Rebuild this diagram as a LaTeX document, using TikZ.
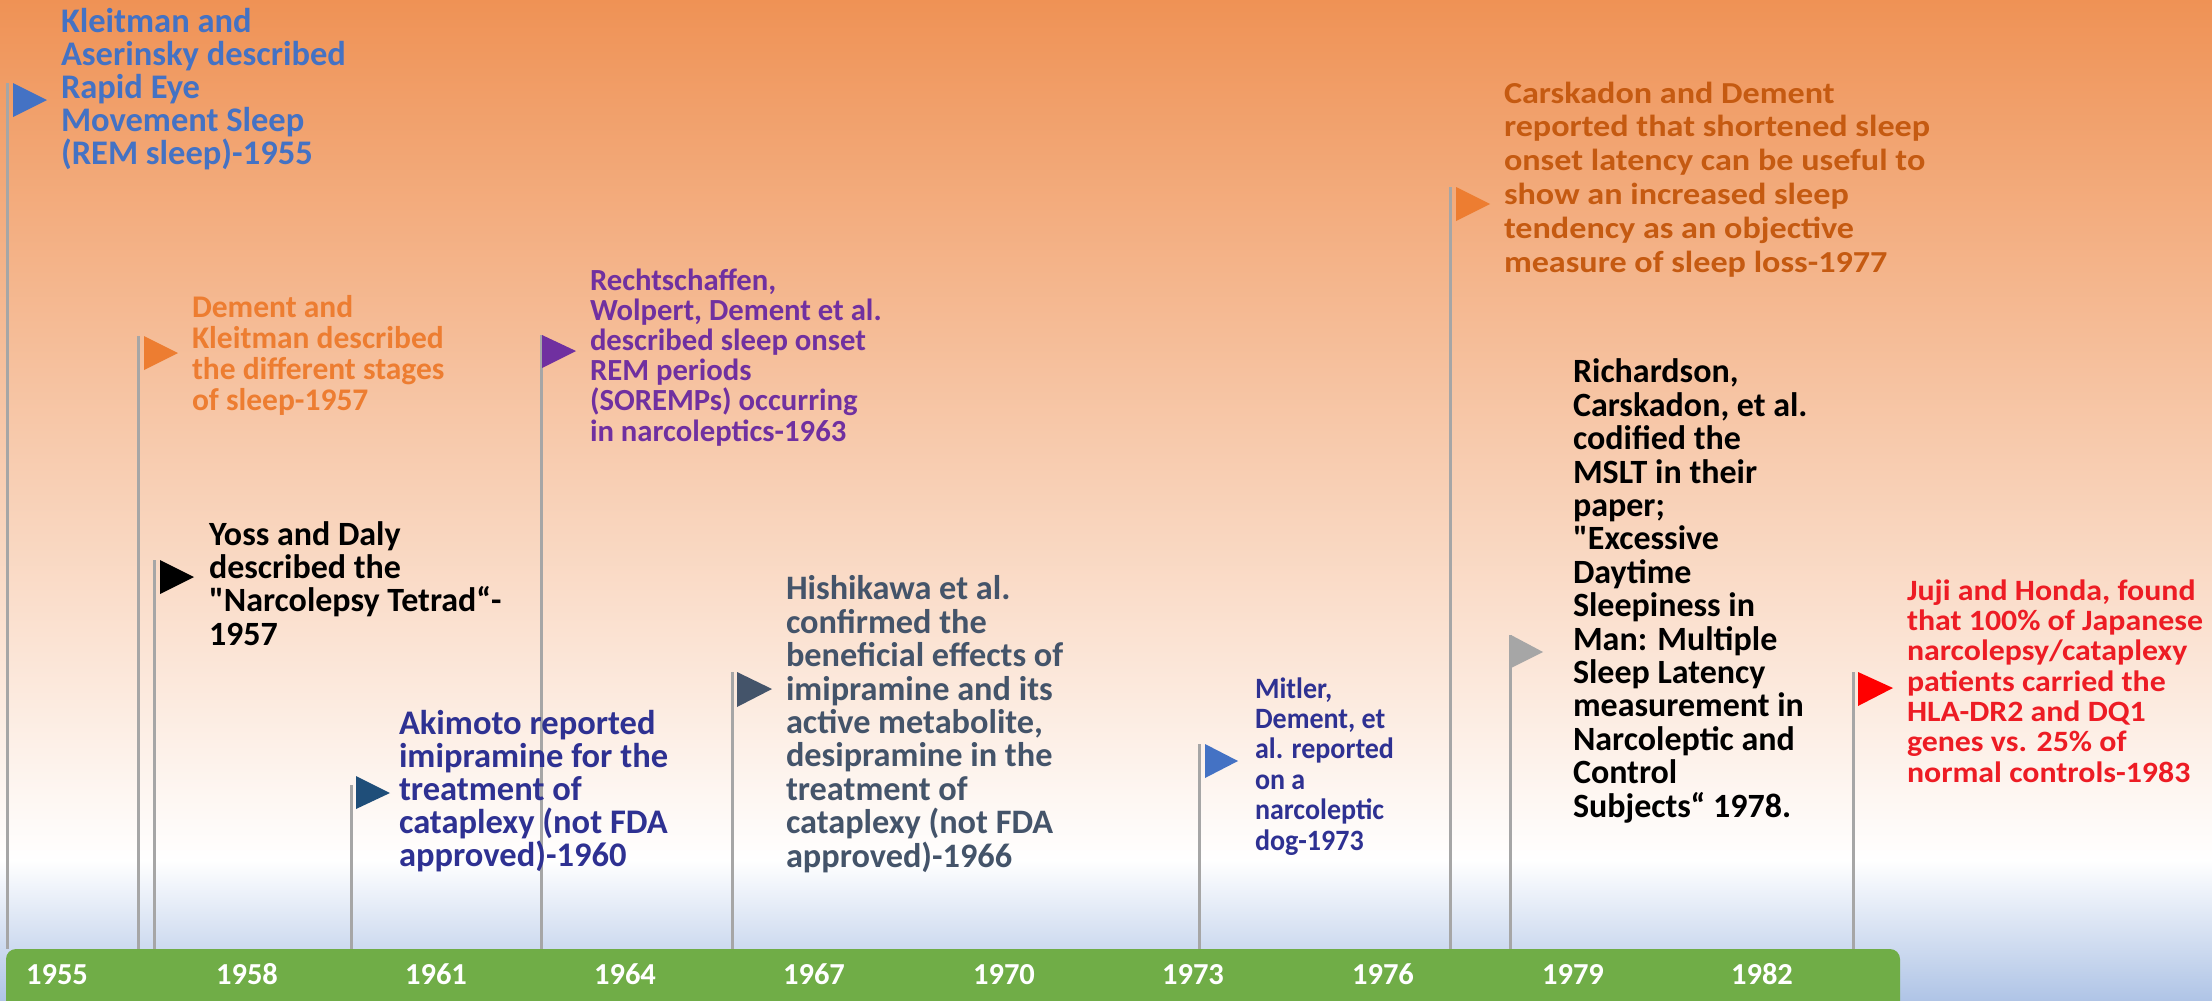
\documentclass[tikz,border=0pt]{standalone}
\usepackage{fontspec}
\newfontfamily\calfont{Carlito}
\definecolor{bgtop}{HTML}{EF9255}
\definecolor{bgbot}{HTML}{AFC4E6}
\definecolor{poleg}{HTML}{A6A6A6}
\definecolor{cblue}{HTML}{4472C4}
\definecolor{corange}{HTML}{ED7D31}
\definecolor{cdorange}{HTML}{C55A11}
\definecolor{cnavy}{HTML}{2E3192}
\definecolor{cteal}{HTML}{1F4E79}
\definecolor{cpurple}{HTML}{7030A0}
\definecolor{cslate}{HTML}{44546A}
\definecolor{cred}{HTML}{ED1C24}
\definecolor{cgreen}{HTML}{70AD47}
\newcommand{\fs}[2]{\calfont\bfseries\fontsize{#1}{#2}\selectfont}
\begin{document}
\begin{tikzpicture}[x=1pt,y=-1pt,
  pole/.style={draw=poleg, line width=3pt},
  txt/.style={anchor=base west, inner sep=0pt, outer sep=0pt, align=left},
  yr/.style={anchor=base, inner sep=0pt, text=white, font=\fs{30.5}{30.5}}]
\useasboundingbox (0,0) rectangle (2212,1001);
% background
\shade[top color=bgtop, bottom color=white] (0,0) rectangle (2212,862);
\shade[top color=white, bottom color=bgbot] (0,860) rectangle (2212,1001);
% bar
\fill[cgreen, rounded corners=10pt] (6,949) rectangle (1900,1012);
% poles
\foreach \px/\py in {7/83, 138.5/336, 154.6/560, 351/785, 541/335, 732/672, 1199/744, 1450/187, 1510/635, 1853/672}
  \draw[pole] (\px,\py) -- (\px,949);
% flags
\fill[cblue]   (13,83) -- (13,117) -- (47,100) -- cycle;
\fill[corange] (144,336) -- (144,370) -- (178,353) -- cycle;
\fill[black]   (160,560) -- (160,594) -- (194,577) -- cycle;
\fill[cteal]   (356,776) -- (356,809) -- (390,793) -- cycle;
\fill[cpurple] (542,335) -- (542,368) -- (576,351) -- cycle;
\fill[cslate]  (737,672) -- (737,707) -- (772,689) -- cycle;
\fill[cblue]   (1205,744) -- (1205,778) -- (1238,761) -- cycle;
\fill[corange] (1456,187) -- (1456,221) -- (1490,204) -- cycle;
\fill[poleg]   (1511,635) -- (1511,668) -- (1543,652) -- cycle;
\fill[red]     (1858,672) -- (1858,706) -- (1893,688) -- cycle;
% texts (anchored at the baseline of the last line)
\node[txt, text=cblue, font=\fs{34.5}{33}] (t1) at (61,164)
  {Kleitman and\\Aserinsky described\\Rapid Eye\\Movement Sleep\\(REM sleep)-1955};
\node[txt, text=corange, font=\fs{31.5}{30.7}] (t2) at (192,410)
  {Dement and\\Kleitman described\\the different stages\\of sleep-1957};
\node[txt, text=black, font=\fs{34}{33.3}] (t3) at (209,645)
  {Yoss and Daly\\described the\\"Narcolepsy Tetrad“-\\1957};
\node[txt, text=cnavy, font=\fs{34.5}{32.8}] (t4) at (399,866)
  {Akimoto reported\\imipramine for the\\treatment of\\cataplexy (not FDA\\approved)-1960};
\node[txt, text=cpurple, font=\fs{30.7}{30.2}] (t5) at (590,441)
  {Rechtschaffen,\\Wolpert, Dement et al.\\described sleep onset\\REM periods\\(SOREMPs) occurring\\in narcoleptics-1963};
\node[txt, text=cslate, font=\fs{34.3}{33.4}] (t6) at (786,867)
  {Hishikawa et al.\\confirmed the\\beneficial effects of\\imipramine and its\\active metabolite,\\desipramine in the\\treatment of\\cataplexy (not FDA\\approved)-1966};
\node[txt, text=cnavy, font=\fs{29.5}{30.4}, xscale=0.95] (t7) at (1255,850)
  {Mitler,\\Dement, et\\al. reported\\on a\\narcoleptic\\dog-1973};
\node[txt, text=cdorange, font=\fs{30.5}{33.8}, xscale=1.12] (t8) at (1504,272)
  {Carskadon and Dement\\reported that shortened sleep\\onset latency can be useful to\\show an increased sleep\\tendency as an objective\\measure of sleep loss-1977};
\node[txt, text=black, font=\fs{34}{33.4}] (t9) at (1573,817)
  {Richardson,\\Carskadon, et al.\\codified the\\MSLT in their\\paper;\\"Excessive\\Daytime\\Sleepiness in\\Man: Multiple\\Sleep Latency\\measurement in\\Narcoleptic and\\Control\\Subjects“ 1978.};
\node[txt, text=cred, font=\fs{29.5}{30.3}, xscale=1.08] (t10) at (1907,782)
  {Juji and Honda, found\\that 100\% of Japanese\\narcolepsy/cataplexy\\patients carried the\\HLA-DR2 and DQ1\\genes vs. 25\% of\\normal controls-1983};
% years
\foreach \yx/\yl in {57/1955, 247/1958, 436/1961, 625/1964, 814/1967, 1004/1970, 1193/1973, 1383/1976, 1573/1979, 1762/1982}
  \node[yr] (y\yl) at (\yx,984) {\yl};
\end{tikzpicture}
\end{document}
